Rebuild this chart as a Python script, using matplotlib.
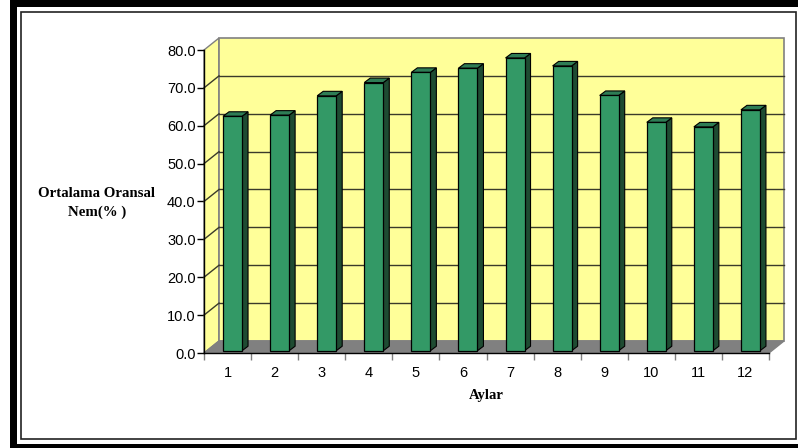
import matplotlib.pyplot as plt
from matplotlib.patches import Polygon, Rectangle

# monthly mean relative humidity
months = [1, 2, 3, 4, 5, 6, 7, 8, 9, 10, 11, 12]
nem = [61.9, 62.2, 67.3, 70.8, 73.5, 74.6, 77.3, 75.2, 67.4, 60.3, 59.1, 63.6]
y_ticks = [0, 10, 20, 30, 40, 50, 60, 70, 80]

W, H = 798, 448
plt.rcParams['font.family'] = ['Liberation Sans', 'DejaVu Sans']

fig = plt.figure(figsize=(W / 100, H / 100), dpi=100)
fig.patch.set_facecolor('white')

# outer heavy frame and inner thin frame
black = 'black'
fig.add_artist(Rectangle((10 / W, 0), 7 / W, 1, transform=fig.transFigure, color=black, lw=0))
fig.add_artist(Rectangle((10 / W, 1 - 7 / H), 1, 7 / H, transform=fig.transFigure, color=black, lw=0))
fig.add_artist(Rectangle((10 / W, 0), 1, 4.5 / H, transform=fig.transFigure, color=black, lw=0))
fig.add_artist(Rectangle((20.5 / W, 1 - 439 / H), 775.5 / W, 427 / H, transform=fig.transFigure,
                         fill=False, ec='#222222', lw=1.2))

# front axis: x 204..769 px, y 353 (0) .. 50 (80) px
ax = fig.add_axes([204 / W, 1 - 353 / H, 565 / W, 303 / H])
ax.set_xlim(0.5, 12.5)
ax.set_ylim(0, 80)
ax.set_facecolor('none')

px_x = 565 / 12.0
px_y = 303 / 80.0
wdx, wdy = 15 / px_x, 12 / px_y     # wall depth
bdx, bdy = 6 / px_x, 4.5 / px_y     # bar depth

x0, x1 = 0.5, 12.5
yellow = '#FFFF99'
grey = '#808080'

# walls and floor
ax.add_patch(Polygon([(x0, 0), (x0 + wdx, wdy), (x0 + wdx, 80 + wdy), (x0, 80)],
                     fc=yellow, ec=grey, lw=1, clip_on=False, zorder=1))
ax.add_patch(Polygon([(x0 + wdx, wdy), (x1 + wdx, wdy), (x1 + wdx, 80 + wdy), (x0 + wdx, 80 + wdy)],
                     fc=yellow, ec=grey, lw=1.2, clip_on=False, zorder=1))
ax.add_patch(Polygon([(x0, 0), (x1, 0), (x1 + wdx, wdy), (x0 + wdx, wdy)],
                     fc=grey, ec=grey, lw=1, clip_on=False, zorder=1.5))

# gridlines on back and side wall
for v in y_ticks[1:-1]:
    ax.plot([x0 + wdx, x1 + wdx], [v + wdy, v + wdy], color='#3a3a2a', lw=1, clip_on=False, zorder=2)
    ax.plot([x0, x0 + wdx], [v, v + wdy], color='#3a3a2a', lw=1, clip_on=False, zorder=2)

# bars: front faces
base = 0.6
width = 19 / px_x
xc = [m + 0.106 for m in months]
ax.bar(xc, nem, width=width, bottom=base, color='#339966', edgecolor='black', lw=0.9,
       zorder=4, clip_on=False)

# side and top faces
for x, v in zip(xc, nem):
    l, r = x - width / 2, x + width / 2
    t = base + v
    ax.add_patch(Polygon([(r, base), (r + bdx, base + bdy), (r + bdx, t + bdy), (r, t)],
                         fc='#1E4B32', ec='black', lw=0.8, clip_on=False, zorder=3))
    ax.add_patch(Polygon([(l, t), (r, t), (r + bdx, t + bdy), (l + bdx, t + bdy)],
                         fc='#2E7D55', ec='black', lw=0.8, clip_on=False, zorder=3))

# axes styling
for s in ['top', 'right']:
    ax.spines[s].set_visible(False)
for s in ['left', 'bottom']:
    ax.spines[s].set_color('black')
    ax.spines[s].set_linewidth(1)
    ax.spines[s].set_zorder(5)

ax.set_yticks(y_ticks)
ax.set_yticklabels(['%.1f' % v for v in y_ticks], fontsize=10.5)
ax.tick_params(axis='y', direction='out', length=5, width=1, pad=1, colors='black')

ax.set_xticks(months)
ax.set_xticklabels([str(m) for m in months], fontsize=10.5)
ax.set_xticks([m - 0.5 for m in months] + [12.5], minor=True)
ax.tick_params(axis='x', which='major', length=0, pad=9)
ax.tick_params(axis='x', which='minor', direction='out', length=5, width=1, color=grey)

ax.set_xlabel('Aylar', family=['Liberation Serif'], fontweight='bold', fontsize=10.5, labelpad=7)

fig.text(97 / W, 1 - 203 / H, 'Ortalama Oransal\nNem(% )', family=['Liberation Serif'],
         fontweight='bold', fontsize=10.7, ha='center', va='center', linespacing=1.5)

fig.savefig('out.png', dpi=100)
